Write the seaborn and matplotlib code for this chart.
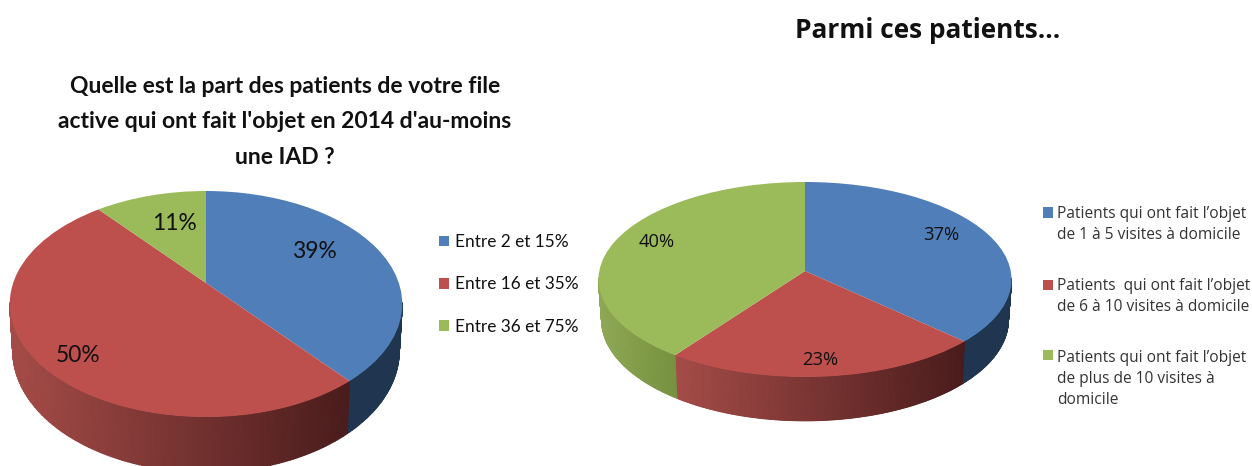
import numpy as np
import matplotlib
matplotlib.use("Agg")
import matplotlib.pyplot as plt
from matplotlib.colors import LinearSegmentedColormap
from matplotlib.transforms import Transform
import seaborn as sns

# ---- data ----
left_title = "Quelle est la part des patients de votre file\nactive qui ont fait l'objet en 2014 d'au-moins\nune IAD ?"
left_labels = ["Entre 2 et 15%", "Entre 16 et 35%", "Entre 36 et 75%"]
left_values = [39, 50, 11]

right_title = "Parmi ces patients..."
right_labels = [
    "Patients qui ont fait l’objet\nde 1 à 5 visites à domicile",
    "Patients  qui ont fait l’objet\nde 6 à 10 visites à domicile",
    "Patients qui ont fait l’objet\nde plus de 10 visites à\ndomicile",
]
right_values = [37, 23, 40]

sns.set_theme(style="white")
palette = sns.color_palette(["#4f7eb9", "#bd4f4c", "#9bba59"])
wall_colors = [("#1f3550", "#1f3550"), ("#a54c48", "#4a1c1c"), ("#8fa956", "#76913f")]

W, H = 1252, 466
fig = plt.figure(figsize=(W / 100, H / 100), dpi=100)
ax = fig.add_axes([0, 0, 1, 1])


class Perspective(Transform):
    """Tilted-disc projection: unit disc -> pixel coordinates."""
    input_dims = output_dims = 2
    is_separable = False
    has_inverse = False

    def __init__(self, cx, apex, top, bottom, left, right):
        super().__init__()
        up, down = apex - top, bottom - apex
        self.c = (down - up) / (down + up)
        self.A = up * (1 + self.c)
        self.B = (right - left) / 2 * np.sqrt(1 - self.c ** 2)
        self.cx, self.apex = cx, apex

    def transform_non_affine(self, xy):
        xy = np.asarray(xy)
        u, s = xy[:, 0], xy[:, 1]
        d = 1 + self.c * s
        return np.column_stack((self.cx + self.B * u / d, self.apex - self.A * s / d))


def pie3d(values, proj, depth, shrink, pct_xy, pct_font):
    wedges, _, pcts = ax.pie(values, colors=palette, startangle=90, counterclock=False,
                             autopct="%.0f%%", wedgeprops=dict(linewidth=0), radius=1)
    for w in wedges:
        w.set_transform(proj + ax.transData)
        w.set_zorder(3)
        w.set_clip_on(False)
    for t, xy in zip(pcts, pct_xy):
        t.set_position(xy)
        t.set_color("#111111")
        t.set_zorder(4)
        t.set(ha="center", va="center", **pct_font)
    # side wall, from the same shares
    edges = np.cumsum([0] + list(values)) / np.sum(values) * 2 * np.pi
    for i, (a, b) in enumerate(zip(edges[:-1], edges[1:])):
        th = np.linspace(a, b, 240)
        u, s = np.sin(th), np.cos(th)
        keep = s <= -proj.c + 0.02
        if keep.sum() < 2:
            continue
        u, s = u[keep], s[keep]
        rim = proj.transform_non_affine(np.column_stack((u, s)))
        d = 1 + proj.c * s
        x0, y0 = rim[:, 0], rim[:, 1]
        x1 = proj.cx + (x0 - proj.cx) * shrink
        y1 = y0 + depth / d
        X = np.vstack((x0, x1))
        Y = np.vstack((y0, y1))
        C = (X - X.min()) / max(X.max() - X.min(), 1)
        cmap = LinearSegmentedColormap.from_list("wall", wall_colors[i])
        ax.pcolormesh(X, Y, C, shading="gouraud", cmap=cmap, vmin=0, vmax=1, zorder=2, rasterized=True)
    return wedges


lato = "Lato"
osans = "Open Sans"

left_proj = Perspective(206, 283, 191, 417, 9.5, 402)
right_proj = Perspective(805, 271, 182, 377, 598, 1011)

lw = pie3d(left_values, left_proj, 45, 0.985,
           [(315, 251), (78, 355), (174, 224)], dict(family=lato, fontsize=16.4))
rw = pie3d(right_values, right_proj, 40, 0.985,
           [(941, 235), (820, 360), (657, 242)], dict(family=osans, fontsize=13.2))

ax.set_aspect("auto")
ax.set_xlim(0, W)
ax.set_ylim(H, 0)
ax.axis("off")

ax.text(285, 122, left_title, ha="center", va="center", family=lato, fontweight="bold",
        fontsize=16.5, linespacing=1.88, color="#111111")
ax.text(928, 31, right_title, ha="center", va="center", family=osans, fontweight="bold",
        fontsize=18.9, color="#111111")

leg1 = ax.legend(lw, left_labels, loc="upper left", bbox_to_anchor=(439, 234),
                 bbox_transform=ax.transData, frameon=False, borderpad=0, borderaxespad=0,
                 prop=dict(family=lato, size=12.4), handlelength=0.58, handleheight=0.58,
                 handletextpad=0.35, labelspacing=1.53, labelcolor="#111111")
ax.add_artist(leg1)
leg2 = ax.legend(rw, right_labels, loc="upper left", bbox_to_anchor=(1043, 206),
                 bbox_transform=ax.transData, frameon=False, borderpad=0, borderaxespad=0,
                 prop=dict(family=osans, size=11.2), handlelength=0.65, handleheight=0.65,
                 handletextpad=0.28, labelspacing=2.27, labelcolor="#333333")
for t in leg2.get_texts():
    t.set_linespacing(1.41)
# square marker sits beside the first line of each entry
for patch, px in zip(leg2.get_patches(), [12.5, 12.5, 25]):
    patch.set_y(patch.get_y() + px * 0.72)

fig.savefig("out.png", dpi=100, facecolor="white")
